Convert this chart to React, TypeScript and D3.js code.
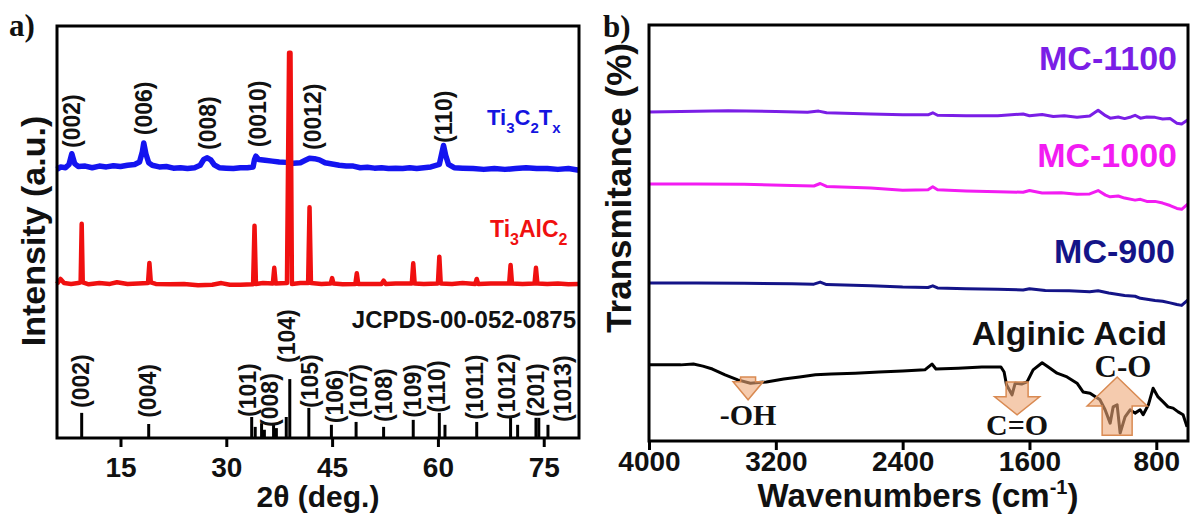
import React, { useEffect, useRef } from "react";
import * as d3 from "d3";

const W = 1192;
const H = 517;
const SANS = "'Liberation Sans', Arial, Helvetica, sans-serif";
const SERIF = "'Liberation Serif', 'Times New Roman', serif";

// ---- panel a: XRD ----
const xrdTicks = [15, 30, 45, 60, 75];

// Ti3C2Tx pattern [2theta, intensity]
const mxenePattern: [number, number][] = [
  [6.0, 65.2], [6.5, 65.8], [7.2, 65.6], [7.7, 66.4], [8.1, 69.0], [8.5, 66.6], [9.0, 65.9],
  [10, 66.0], [11, 65.6], [12, 66.0], [13, 65.8], [14, 66.1], [15, 65.9], [16, 66.2],
  [17, 66.4], [17.7, 67.0], [18.1, 69.5], [18.3, 71.6], [18.6, 69.0], [19.0, 66.8],
  [19.5, 66.2], [20.5, 65.8], [21.5, 65.9], [22.5, 65.5], [23.5, 65.6], [24.5, 65.4],
  [25.5, 65.6], [26.3, 66.2], [26.8, 67.6], [27.3, 68.0], [27.8, 67.5], [28.3, 66.3],
  [29, 65.6], [30, 65.5], [31, 65.4], [32, 65.6], [33, 65.6], [33.8, 65.8], [34.0, 67.6],
  [34.2, 68.4], [34.6, 67.6], [35.5, 67.4], [36.5, 67.2], [37.5, 67.0], [38.5, 66.9],
  [39.5, 66.7], [40.5, 66.8], [41.2, 67.4], [41.8, 67.9], [42.5, 67.8], [43.2, 67.5],
  [44, 66.8], [45, 66.5], [46, 66.2], [47, 66.0], [48, 66.0], [49, 65.6], [50, 65.7],
  [51, 65.5], [52, 65.6], [53, 65.4], [54, 65.5], [55, 65.4], [56, 65.6], [57, 65.4],
  [58, 65.6], [59, 65.8], [60.2, 66.4], [60.6, 69.5], [60.8, 71.0], [61.1, 68.6],
  [61.5, 66.4], [62.3, 65.6], [63.5, 65.5], [65, 65.4], [66.5, 65.2], [68, 65.4],
  [69.5, 65.2], [71, 65.4], [72.5, 65.6], [74, 65.4], [75.5, 65.4], [77, 65.2],
  [78.5, 65.4], [80, 65.0],
];

// Ti3AlC2 pattern [2theta, intensity]
const maxPattern: [number, number][] = [
  [6.0, 37.4], [6.5, 38.6], [7.0, 37.6], [8.0, 37.4], [9.0, 37.6], [9.35, 37.8], [9.5, 52.0],
  [9.65, 37.8], [10.5, 37.3], [12, 37.6], [13.5, 37.4], [14.5, 37.8], [16, 37.4],
  [17.5, 37.5], [18.9, 37.6], [19.1, 42.5], [19.3, 37.8], [20, 37.4], [22, 37.3],
  [24, 37.4], [26, 37.1], [28, 37.2], [29.3, 37.6], [30.5, 37.2], [32, 37.2], [33.8, 37.3],
  [34.0, 51.5], [34.2, 37.4], [35.2, 37.6], [36.6, 37.5], [36.8, 41.3], [37.0, 37.5],
  [38.6, 37.6], [38.9, 93.5], [39.1, 93.5], [39.3, 37.4], [40.5, 37.6], [41.6, 37.6],
  [41.8, 56.0], [42.0, 37.6], [43.5, 37.4], [44.8, 37.5], [45.0, 38.8], [45.2, 37.5],
  [46.5, 37.3], [48.3, 37.4], [48.5, 40.0], [48.7, 37.4], [50, 37.4], [52.0, 37.4],
  [52.3, 38.2], [52.6, 37.4], [54, 37.5], [56.3, 37.5], [56.5, 42.4], [56.7, 37.5],
  [58, 37.4], [60.0, 37.5], [60.2, 44.0], [60.4, 37.5], [62, 37.4], [63.5, 37.6],
  [65.3, 37.4], [65.5, 38.6], [65.7, 37.4], [67.5, 37.5], [70.1, 37.5], [70.3, 42.0],
  [70.5, 37.5], [72, 37.4], [73.7, 37.5], [73.9, 41.3], [74.1, 37.5], [75.5, 37.4],
  [77, 37.5], [78.5, 37.3], [80, 37.4],
];

// JCPDS-00-052-0875 reference sticks [2theta, height]
const refSticks: [number, number][] = [
  [9.5, 6.1], [19.0, 3.4], [33.6, 5.1], [34.1, 2.7], [35.0, 3.6], [35.4, 2.0],
  [36.7, 3.2], [37.1, 2.4], [38.5, 5.1], [39.0, 14.3], [41.7, 7.3], [44.9, 3.2],
  [48.4, 3.9], [52.3, 2.7], [56.5, 4.4], [60.2, 6.1], [61.0, 3.2], [65.5, 3.9],
  [70.3, 4.9], [71.3, 3.2], [73.9, 4.9], [74.3, 4.9], [75.6, 3.2],
];

// hkl labels [text, 2theta, bottom of label]
const mxeneHkl: [string, number, number][] = [
  ["(002)", 8.1, 70.4], ["(006)", 18.3, 73.5], ["(008)", 27.3, 69.9],
  ["(0010)", 34.4, 70.6], ["(0012)", 42.2, 69.9], ["(110)", 60.8, 71.6],
];
const refHkl: [string, number, number][] = [
  ["(002)", 9.3, 7.3], ["(004)", 18.9, 4.9], ["(101)", 33.0, 5.1], ["(008)", 36.2, 2.7],
  ["(104)", 38.6, 18.2], ["(105)", 41.8, 7.3], ["(106)", 45.3, 3.6], ["(107)", 48.8, 4.9],
  ["(108)", 52.3, 3.9], ["(109)", 56.4, 4.9], ["(110)", 59.9, 6.1], ["(1011)", 65.2, 4.4],
  ["(1012)", 69.8, 4.4], ["(201)", 73.8, 5.1], ["(1013)", 77.7, 3.9],
];

// ---- panel b: FTIR ----
const ftirTicks = [4000, 3200, 2400, 1600, 800];

const mc1100: [number, number][] = [
  [4000, 79.1], [3800, 79.2], [3500, 79.4], [3200, 79.2], [3000, 79.0], [2930, 79.3],
  [2880, 78.9], [2600, 78.6], [2400, 78.4], [2240, 78.4], [2210, 78.9], [2180, 78.3],
  [2000, 78.2], [1800, 78.2], [1640, 78.6], [1600, 78.2], [1520, 78.5], [1450, 78.0],
  [1380, 78.2], [1300, 77.8], [1220, 78.1], [1167, 79.5], [1120, 78.2], [1091, 77.6],
  [1040, 77.9], [1000, 77.5], [960, 77.9], [934, 78.3], [900, 77.6], [860, 77.9],
  [808, 77.8], [760, 77.4], [713, 77.5], [670, 76.4], [640, 76.2], [600, 77.2],
];
const mc1000: [number, number][] = [
  [4000, 61.8], [3700, 61.8], [3400, 61.7], [3100, 61.4], [2960, 61.3], [2920, 61.9],
  [2880, 61.2], [2600, 60.8], [2400, 60.3], [2240, 60.4], [2210, 61.1], [2180, 60.4],
  [2000, 60.1], [1800, 59.9], [1640, 59.8], [1600, 60.2], [1520, 59.6], [1400, 59.7],
  [1300, 59.3], [1220, 59.4], [1167, 60.2], [1120, 59.1], [1091, 58.7], [1040, 58.9],
  [1000, 58.4], [934, 57.9], [900, 58.1], [860, 57.6], [808, 57.6], [760, 57.2],
  [713, 56.6], [670, 55.9], [640, 55.7], [600, 57.0],
];
const mc900: [number, number][] = [
  [4000, 38.0], [3700, 38.0], [3400, 37.9], [3100, 37.8], [2960, 37.7], [2920, 38.2],
  [2880, 37.6], [2600, 37.3], [2400, 37.0], [2240, 36.9], [2210, 37.3], [2180, 36.8],
  [2000, 36.6], [1800, 36.5], [1640, 36.3], [1600, 36.6], [1500, 36.2], [1350, 36.1],
  [1220, 35.9], [1167, 36.1], [1100, 35.6], [1000, 35.0], [934, 34.8], [900, 34.3],
  [808, 33.8], [760, 33.6], [713, 33.2], [670, 32.8], [640, 32.6], [600, 33.9],
];
const alginic: [number, number][] = [
  [4000, 18.3], [3800, 18.3], [3720, 18.5], [3660, 18.0], [3600, 17.3], [3520, 15.9],
  [3440, 14.7], [3360, 13.9], [3260, 14.2], [3150, 14.9], [3050, 15.4], [2950, 15.9],
  [2850, 16.1], [2700, 16.3], [2550, 16.6], [2400, 16.8], [2260, 17.1], [2215, 18.5],
  [2190, 17.3], [2050, 17.5], [1900, 17.8], [1780, 17.8], [1760, 16.6], [1745, 13.5],
  [1710, 11.1], [1690, 13.9], [1650, 13.7], [1615, 14.2], [1577, 17.1], [1520, 18.8],
  [1470, 17.5], [1426, 16.3], [1363, 15.4], [1300, 13.9], [1262, 11.8], [1218, 11.5],
  [1155, 9.9], [1123, 7.5], [1091, 4.3], [1072, 8.2], [1047, 8.7], [1028, 1.9],
  [997, 5.8], [965, 7.5], [934, 6.7], [902, 7.5], [883, 6.3], [850, 8.7], [820, 12.7],
  [789, 10.6], [757, 9.4], [726, 8.2], [694, 7.9], [662, 7.0], [631, 6.3], [606, 3.4],
];

// band arrows [label, wavenumber, tail, tip]
const bandArrows: [string, number, number, number][] = [
  ["-OH", 3375, 15.4, 9.9],
  ["C=O", 1678, 14.2, 6.3],
  ["C-O", 1047, 1.4, 15.4],
];

const arrowStyle: Record<string, { shaft: number; head: number; headLen: number }> = {
  "-OH": { shaft: 15, head: 30, headLen: 18 },
  "C=O": { shaft: 22, head: 45, headLen: 18 },
  "C-O": { shaft: 30, head: 60, headLen: 29 },
};

type Sel = d3.Selection<SVGGElement, unknown, null, undefined>;

function addAxis(g: Sel, scale: d3.ScaleLinear<number, number>, ticks: number[], y: number, pad: number) {
  const ax = g.append("g")
    .attr("transform", `translate(0,${y})`)
    .call(d3.axisBottom(scale).tickValues(ticks).tickSize(9).tickSizeOuter(0).tickPadding(pad).tickFormat(d3.format("d")));
  ax.select(".domain").remove();
  ax.selectAll("line").attr("stroke", "#000").attr("stroke-width", 3);
  ax.selectAll("text")
    .attr("fill", "#111")
    .style("font-family", SANS)
    .style("font-weight", "bold")
    .style("font-size", "28px");
}

function App() {
  const ref = useRef<SVGSVGElement>(null);

  useEffect(() => {
    const svg = d3.select(ref.current);
    svg.selectAll("*").remove();
    const root = svg.append("g") as unknown as Sel;

    // ========== panel a ==========
    const xa = d3.scaleLinear().domain([6, 80]).range([57, 579]);
    const ya = d3.scaleLinear().domain([0, 100]).range([438, 26]);
    const lineA = d3.line<[number, number]>().x((d) => xa(d[0])).y((d) => ya(d[1]));

    root.append("path").datum(mxenePattern)
      .attr("d", lineA).attr("fill", "none").attr("stroke", "#1414f0")
      .attr("stroke-width", 5.5).attr("stroke-linejoin", "round");
    root.append("path").datum(maxPattern)
      .attr("d", lineA).attr("fill", "none").attr("stroke", "#f01010")
      .attr("stroke-width", 4.5).attr("stroke-linejoin", "round");

    root.append("g").selectAll("line").data(refSticks).join("line")
      .attr("x1", (d) => xa(d[0])).attr("x2", (d) => xa(d[0]))
      .attr("y1", ya(0)).attr("y2", (d) => ya(d[1]))
      .attr("stroke", "#000").attr("stroke-width", 3);

    const hklText = (data: [string, number, number][], yScale: d3.ScaleLinear<number, number>) =>
      root.append("g").selectAll("text").data(data).join("text")
        .attr("transform", (d) => `translate(${xa(d[1])},${yScale(d[2])}) rotate(-90)`)
        .attr("dy", "0.36em")
        .style("font-family", SANS).style("font-weight", "bold").style("font-size", "23px")
        .attr("fill", "#111")
        .text((d) => d[0]);
    hklText(mxeneHkl, ya);
    hklText(refHkl, ya);

    root.append("rect").attr("x", 57).attr("y", 26).attr("width", 522).attr("height", 412)
      .attr("fill", "none").attr("stroke", "#000").attr("stroke-width", 3);
    addAxis(root, xa, xrdTicks, 438, 10);

    const subText = (x: number, y: number, parts: [string, boolean][], color: string, size: number) => {
      const t = root.append("text").attr("x", x).attr("y", y).attr("fill", color)
        .style("font-family", SANS).style("font-weight", "bold").style("font-size", `${size}px`);
      let shift = 0;
      parts.forEach(([s, sub]) => {
        const want = sub ? 8 : 0;
        t.append("tspan").attr("dy", want - shift)
          .style("font-size", sub ? `${Math.round(size * 0.68)}px` : `${size}px`).text(s);
        shift = want;
      });
    };
    subText(487, 125, [["Ti", false], ["3", true], ["C", false], ["2", true], ["T", false], ["x", true]], "#1414e0", 22);
    subText(490, 237, [["Ti", false], ["3", true], ["AlC", false], ["2", true]], "#f01010", 23);
    root.append("text").attr("x", 576).attr("y", 328).attr("text-anchor", "end")
      .style("font-family", SANS).style("font-weight", "bold").style("font-size", "24px")
      .attr("fill", "#111").text("JCPDS-00-052-0875");

    root.append("text").attr("transform", "translate(45,231) rotate(-90)")
      .attr("text-anchor", "middle")
      .style("font-family", SANS).style("font-weight", "bold").style("font-size", "34px")
      .attr("fill", "#111").text("Intensity (a.u.)");
    root.append("text").attr("x", 318).attr("y", 507).attr("text-anchor", "middle")
      .style("font-family", SANS).style("font-weight", "bold").style("font-size", "30px")
      .attr("fill", "#111").text("2θ (deg.)");
    root.append("text").attr("x", 9).attr("y", 36)
      .style("font-family", SERIF).style("font-weight", "bold").style("font-size", "31px")
      .attr("fill", "#111").text("a)");

    // ========== panel b ==========
    const xb = d3.scaleLinear().domain([4000, 600]).range([649, 1188]);
    const yb = d3.scaleLinear().domain([0, 100]).range([441, 25]);
    const lineB = d3.line<[number, number]>().x((d) => xb(d[0])).y((d) => yb(d[1]));

    const ftirSeries: [[number, number][], string][] = [
      [mc1100, "#7a1ee6"], [mc1000, "#f21cf2"], [mc900, "#141488"], [alginic, "#000"],
    ];
    ftirSeries.forEach(([data, color]) => {
      root.append("path").datum(data).attr("d", lineB).attr("fill", "none")
        .attr("stroke", color).attr("stroke-width", 3).attr("stroke-linejoin", "round");
    });

    bandArrows.forEach(([label, w, tail, tip]) => {
      const st = arrowStyle[label];
      const cx = xb(w);
      const yT = yb(tail);
      const yP = yb(tip);
      const dir = yP > yT ? 1 : -1;
      const yN = yP - dir * st.headLen;
      const s = st.shaft / 2;
      const h = st.head / 2;
      const p = d3.path();
      p.moveTo(cx - s, yT); p.lineTo(cx + s, yT); p.lineTo(cx + s, yN); p.lineTo(cx + h, yN);
      p.lineTo(cx, yP); p.lineTo(cx - h, yN); p.lineTo(cx - s, yN); p.closePath();
      root.append("path").attr("d", p.toString())
        .attr("fill", "#eea878").attr("fill-opacity", 0.6)
        .attr("stroke", "#d98a52").attr("stroke-width", 1.5);
    });

    const serifLabel = (x: number, y: number, s: string, size: number) =>
      root.append("text").attr("x", x).attr("y", y).attr("text-anchor", "middle")
        .style("font-family", SERIF).style("font-weight", "bold").style("font-size", `${size}px`)
        .attr("fill", "#111").text(s);
    serifLabel(xb(3375), yb(3.8), "-OH", 30);
    serifLabel(xb(1678), yb(1.4), "C=O", 30);
    serifLabel(xb(1010), yb(15.4), "C-O", 31);

    const seriesLabel = (y: number, s: string, color: string, x: number, size: number) =>
      root.append("text").attr("x", x).attr("y", y).attr("text-anchor", "end")
        .style("font-family", SANS).style("font-weight", "bold").style("font-size", `${size}px`)
        .attr("fill", color).text(s);
    seriesLabel(70, "MC-1100", "#7a1ee6", 1177, 34);
    seriesLabel(167, "MC-1000", "#f21cf2", 1177, 34);
    seriesLabel(263, "MC-900", "#141488", 1175, 34);
    seriesLabel(345, "Alginic Acid", "#111", 1167, 34);

    root.append("rect").attr("x", 649).attr("y", 25).attr("width", 539).attr("height", 416)
      .attr("fill", "none").attr("stroke", "#000").attr("stroke-width", 3);
    addAxis(root, xb, ftirTicks, 441, 1);

    root.append("text").attr("transform", "translate(631,188) rotate(-90)")
      .attr("text-anchor", "middle")
      .style("font-family", SANS).style("font-weight", "bold").style("font-size", "35px")
      .attr("fill", "#111").text("Transmitance (%)");
    const xt = root.append("text").attr("x", 918).attr("y", 507).attr("text-anchor", "middle")
      .style("font-family", SANS).style("font-weight", "bold").style("font-size", "33px")
      .attr("fill", "#111");
    xt.append("tspan").text("Wavenumbers (cm");
    xt.append("tspan").attr("dy", -13).style("font-size", "20px").text("-1");
    xt.append("tspan").attr("dy", 13).text(")");
    root.append("text").attr("x", 603).attr("y", 37)
      .style("font-family", SERIF).style("font-weight", "bold").style("font-size", "31px")
      .attr("fill", "#111").text("b)");
  }, []);

  return (
    <svg ref={ref} width={W} height={H}
      style={{ position: "absolute", left: 0, top: 0, background: "#fff" }} />
  );
}

export default App;
